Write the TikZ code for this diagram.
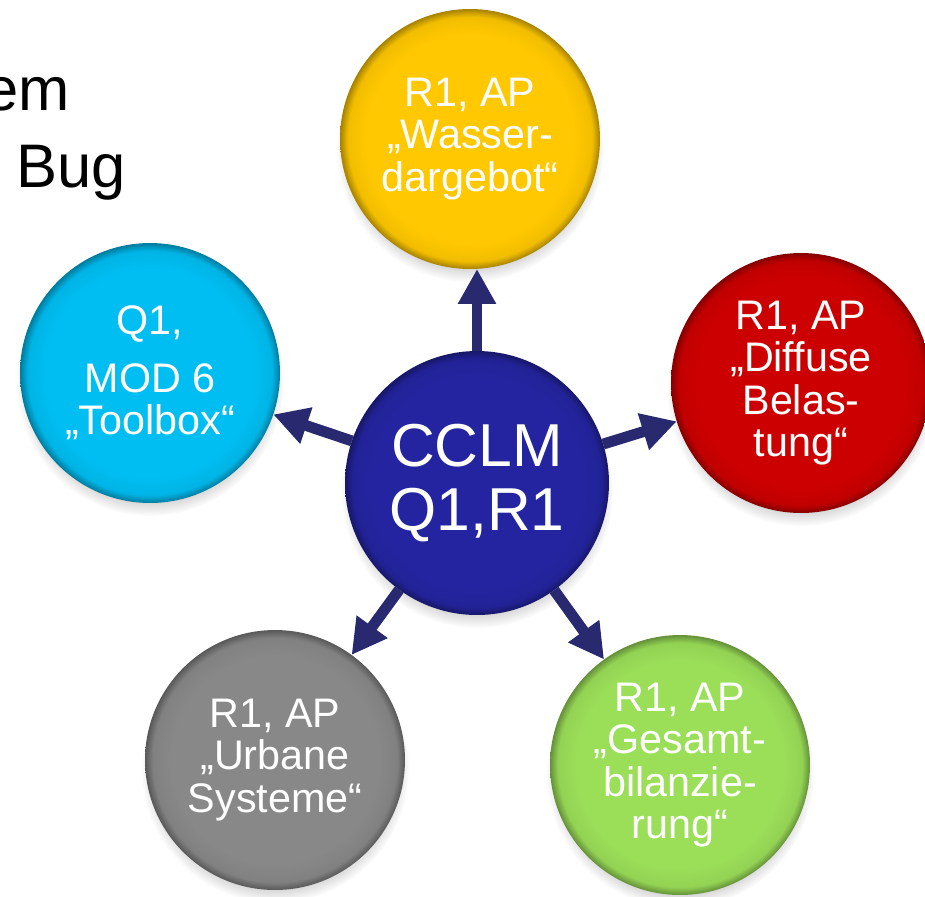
\documentclass[tikz,border=0pt]{standalone}
\usepackage{fontspec}
\setmainfont{Liberation Sans}
\usetikzlibrary{arrows.meta,shadows}
\definecolor{wasserc}{HTML}{FFC800}
\definecolor{diffusec}{HTML}{CC0000}
\definecolor{toolboxc}{HTML}{00BEF2}
\definecolor{urbanec}{HTML}{888888}
\definecolor{gesamtc}{HTML}{9BDE58}
\definecolor{cclmc}{HTML}{2424A0}
\definecolor{arrowc}{HTML}{29296F}
\colorlet{bubin}{white}
\colorlet{bubout}{black}
% the circle fills the inner 50bp square of the shading
\pgfdeclareradialshading[bubin,bubout]{bubble}{\pgfpoint{0bp}{0bp}}{%
  color(0bp)=(bubin); color(20bp)=(bubin); color(23.5bp)=(bubin!85!bubout);
  color(25bp)=(bubout); color(50bp)=(bubout)}
\tikzset{
  bubble/.style  = { circle, minimum size=5.2cm, inner sep=0pt, outer sep=0pt,
                     text=white, align=center, shade, shading=bubble,
                     font=\fontsize{23.5}{24}\selectfont,
                     /utils/exec={\colorlet{bubin}{#1}\colorlet{bubout}{#1!65!black}},
                     circular drop shadow={shadow xshift=0pt, shadow yshift=-5pt,
                                           shadow scale=1.03, opacity=0.45} },
  hub/.style     = { bubble=cclmc, minimum size=5.28cm,
                     font=\fontsize{34.5}{36}\selectfont },
  flow/.style    = { draw=arrowc, line width=6.2pt,
                     -{Triangle[width=0.72cm,length=0.7cm]} },
  heading/.style = { inner sep=0pt, font=\fontsize{35}{40}\selectfont }
}
\begin{document}
\begin{tikzpicture}[x=0.02cm, y=-0.02cm]
    \useasboundingbox (0,0) rectangle (925,896);

    % title, cut at the left margin
    \node[heading, anchor=base east] (title1) at (70,110) {em};
    \node[heading, anchor=base west] (title2) at (16,187) {Bug};

    \node[bubble=wasserc]  (wasser)  at (470,139) {R1, AP\\„Wasser-\\dargebot“};
    \node[bubble=diffusec] (diffuse) at (801,383) {R1, AP\\„Diffuse\\Belas-\\tung“};
    \node[bubble=toolboxc] (toolbox) at (150,373) {Q1,\\[9pt]MOD 6\\„Toolbox“};
    \node[bubble=urbanec]  (urbane)  at (275,760) {R1, AP\\„Urbane\\Systeme“};
    \node[bubble=gesamtc]  (gesamt)  at (680,765) {R1, AP\\„Gesamt-\\bilanzie-\\rung“};

    \node[hub] (cclm) at (477,483) {CCLM\\Q1,R1};

    \draw[flow] (cclm.north) -- (cclm.north |- wasser.south);
    \draw[flow] (cclm) -- (diffuse);
    \draw[flow] (cclm) -- (toolbox);
    \draw[flow] (cclm) -- (urbane);
    \draw[flow] (cclm) -- (gesamt);
\end{tikzpicture}
\end{document}
